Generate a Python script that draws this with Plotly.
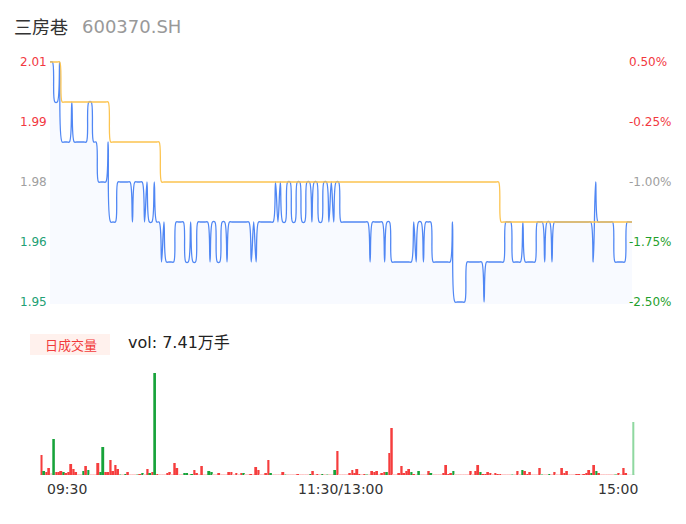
import plotly.graph_objects as go

# ---------------- data ----------------
STOCK_NAME = "三房巷"
STOCK_CODE = "600370.SH"
PREV_CLOSE = 2.00
VOL_TEXT = "vol: 7.41万手"
VOL_TAG = "日成交量"
X_LABELS = ["09:30", "11:30/13:00", "15:00"]

# minute price, written as (price, number of consecutive minutes)
PRICE_RUNS = [
    (2.01, 2), (2.00, 2), (2.01, 1), (1.99, 4), (2.00, 1), (1.99, 6), (2.00, 2),
    (1.99, 2), (1.98, 4), (1.99, 1), (1.97, 3), (1.98, 6), (1.97, 1), (1.98, 4),
    (1.97, 1), (1.98, 1), (1.97, 2), (1.98, 1), (1.97, 2), (1.96, 1), (1.97, 1),
    (1.96, 4), (1.97, 4), (1.96, 2), (1.97, 1), (1.96, 2), (1.97, 5), (1.96, 1),
    (1.97, 2), (1.96, 2), (1.97, 2), (1.96, 1), (1.97, 9), (1.96, 1), (1.97, 1),
    (1.96, 1), (1.97, 7),
    (1.98, 1), (1.97, 1), (1.98, 1), (1.97, 2), (1.98, 2), (1.97, 2), (1.98, 2),
    (1.97, 2), (1.98, 2), (1.97, 1), (1.98, 2), (1.97, 2), (1.98, 2), (1.97, 1),
    (1.98, 1), (1.97, 1), (1.98, 2),
    (1.97, 12), (1.96, 1), (1.97, 5), (1.96, 1), (1.97, 2), (1.96, 9), (1.97, 1),
    (1.96, 1), (1.97, 2), (1.96, 1), (1.97, 3), (1.96, 8), (1.97, 1), (1.95, 5),
    (1.96, 7), (1.95, 1), (1.96, 8), (1.97, 3), (1.96, 4), (1.97, 1), (1.96, 5),
    (1.97, 3), (1.96, 1), (1.97, 2), (1.96, 1), (1.97, 16), (1.96, 1), (1.98, 1),
    (1.97, 7), (1.96, 5), (1.97, 3),
]
AVG_RUNS = [(2.01, 5), (2.00, 20), (1.99, 21), (1.98, 140), (1.97, 55)]

VOLUME = [
    1800, 360, 270, 630, 180, 3240, 270, 270, 360, 270,
    180, 270, 990, 540, 270, 90, 90, 360, 810, 450,
    90, 90, 90, 1080, 270, 2520, 270, 270, 1350, 360,
    900, 540, 90, 90, 90, 270, 90, 90, 90, 90,
    90, 180, 90, 540, 180, 270, 9180, 90, 90, 90,
    90, 180, 270, 90, 1080, 630, 90, 90, 180, 180,
    90, 90, 450, 180, 90, 810, 90, 90, 360, 270,
    90, 90, 180, 90, 90, 90, 270, 270, 90, 180,
    90, 180, 180, 90, 90, 90, 90, 720, 450, 90,
    90, 180, 1350, 180, 90, 90, 90, 90, 270, 90,
    90, 90, 90, 90, 90, 90, 90, 90, 90, 90,
    360, 90, 90, 90, 90, 90, 90, 90, 90, 450,
    2160, 90, 90, 90, 90, 180, 450, 180, 540, 90,
    90, 90, 90, 90, 360, 270, 360, 90, 180, 270,
    270, 1980, 4230, 90, 90, 180, 810, 180, 360, 540,
    270, 90, 90, 360, 90, 90, 90, 360, 180, 90,
    90, 90, 90, 180, 900, 90, 180, 360, 90, 90,
    90, 90, 90, 90, 360, 90, 360, 900, 270, 90,
    90, 270, 180, 90, 180, 90, 90, 90, 90, 90,
    90, 90, 90, 360, 90, 450, 360, 90, 270, 90,
    90, 90, 630, 90, 90, 90, 90, 90, 270, 90,
    90, 630, 180, 360, 90, 90, 90, 90, 90, 90,
    90, 180, 450, 180, 900, 360, 180, 90, 90, 90,
    90, 90, 90, 90, 180, 90, 630, 180, 0, 0,
    4770,
]
# r = up, g = down, lr / lg = faint up / down, per minute
VOL_KIND = (
    "r g r r lr g r r r g "
    "r r r r r lr lr g r g "
    "lr lr lr r g g r r r r "
    "r r lg lr g r lr lr lr lg "
    "r g lr r g r g r lr lr "
    "lr r r lr r r lr lr g g "
    "lr g r r lr r lr lr g g "
    "lr lr r lr lr lr r r lr r "
    "lr r g lr lr r lr r r lr "
    "lr r r g lr lr lr lr r lg "
    "lr lr lr lr r lr lr lr lr g "
    "r lr r lr g lr lg lr lr g "
    "r lr lr lr lr r r r r r "
    "lr r lg lr r r r lr r r "
    "g r r lr lr r r r r r "
    "g r lr g lr lr lr r g lr "
    "lr lr lr r r r r g lr lr "
    "lr lr lr lr r lr r r g r "
    "r r r lr r r r lr lr lr "
    "lr lg lr r lr g r r r lr "
    "lr lr r lg lr lr g lr r lr "
    "lr r r r lr lr lr r r lr "
    "r r r g r g r lr lr lr "
    "lr lr lr lg r lr r r lr lr "
    "lg"
).split()

PRICE_TICKS = [2.01, 1.995, 1.98, 1.965, 1.95]
PRICE_TICK_TEXT = ["2.01", "1.99", "1.98", "1.96", "1.95"]
PCT_TICK_TEXT = ["0.50%", "-0.25%", "-1.00%", "-1.75%", "-2.50%"]


def expand(runs):
    out = []
    for v, n in runs:
        out.extend([v] * n)
    return out


price = expand(PRICE_RUNS)
avg = expand(AVG_RUNS)
minutes = list(range(len(price)))

# ---------------- styling ----------------
W, H = 686, 524
OFF = 8  # page body margin
RED, GREEN, GRAY = "#f2393f", "#1f9f2d", "#a0a0a0"
LEFT_GREEN = "#23a074"
KIND_COLOR = {"r": "#f53d3d", "g": "#17a33a", "lr": "#ffc9c9", "lg": "#8fd8a0"}
FONT = "DejaVu Sans, Noto Sans CJK SC, sans-serif"
CJK = "Noto Sans CJK SC, DejaVu Sans, sans-serif"


def px_x(p):
    return (p - OFF) / W


def px_y(p):
    return 1 - (p - OFF) / H


PAD = 0.0005
y_lo, y_hi = 1.95 - PAD, 2.01 + PAD
pix_per_unit = 240 / 0.06

fig = go.Figure()

fig.add_trace(go.Scatter(
    x=minutes, y=price, mode="lines",
    line=dict(color="#5087f4", width=1.3, shape="spline", smoothing=1.0),
    fill="tozeroy", fillcolor="rgba(90,140,250,0.045)",
    xaxis="x", yaxis="y", hoverinfo="skip", showlegend=False,
))
fig.add_trace(go.Scatter(
    x=minutes, y=avg, mode="lines",
    line=dict(color="#fcc450", width=1.3, shape="spline", smoothing=1.0),
    xaxis="x", yaxis="y", hoverinfo="skip", showlegend=False,
))
fig.add_trace(go.Bar(
    x=list(range(len(VOLUME))), y=VOLUME,
    marker=dict(color=[KIND_COLOR[k] for k in VOL_KIND], line=dict(width=0)),
    xaxis="x2", yaxis="y2", hoverinfo="skip", showlegend=False,
))

top_px = 62 - PAD * pix_per_unit
bot_px = 302 + PAD * pix_per_unit

fig.update_layout(
    width=W, height=H,
    margin=dict(l=0, r=0, t=0, b=0),
    paper_bgcolor="white", plot_bgcolor="rgba(0,0,0,0)",
    bargap=0.2,
    xaxis=dict(domain=[px_x(50), px_x(632)], range=[0, 240], visible=False, fixedrange=True),
    yaxis=dict(domain=[px_y(bot_px), px_y(top_px)], range=[y_lo, y_hi], visible=False,
               fixedrange=True),
    xaxis2=dict(domain=[px_x(40.3), px_x(634.7)], range=[-0.5, 240.5], visible=False,
                anchor="y2", fixedrange=True),
    yaxis2=dict(domain=[px_y(475), px_y(373)], range=[0, max(VOLUME)], visible=False,
                anchor="x2", fixedrange=True),
    showlegend=False,
)

ann = []
# title
ann.append(dict(x=px_x(12), y=px_y(26), xref="paper", yref="paper", xanchor="left",
                yanchor="middle", text=STOCK_NAME, showarrow=False,
                font=dict(family=CJK, size=18, color="#333333")))
ann.append(dict(x=px_x(80), y=px_y(26), xref="paper", yref="paper", xanchor="left",
                yanchor="middle", text=STOCK_CODE, showarrow=False,
                font=dict(family=FONT, size=18, color="#999999")))

# price / percentage tick labels
for v, t, pt in zip(PRICE_TICKS, PRICE_TICK_TEXT, PCT_TICK_TEXT):
    pct = (v / PREV_CLOSE - 1) * 100
    if pct > -0.9:
        lc, rc = RED, RED
    elif pct < -1.1:
        lc, rc = LEFT_GREEN, GREEN
    else:
        lc, rc = GRAY, GRAY
    ann.append(dict(x=px_x(49), y=v, xref="paper", yref="y", xanchor="right",
                    yanchor="middle", text=t, showarrow=False,
                    font=dict(family=FONT, size=12, color=lc)))
    ann.append(dict(x=px_x(627), y=v, xref="paper", yref="y", xanchor="left",
                    yanchor="middle", text=pt, showarrow=False,
                    font=dict(family=FONT, size=12, color=rc)))

# volume header
ann.append(dict(x=px_x(71), y=px_y(344), xref="paper", yref="paper", xanchor="center",
                yanchor="middle", text=VOL_TAG, showarrow=False,
                font=dict(family=CJK, size=13, color="#f23b3b")))
ann.append(dict(x=px_x(126), y=px_y(342), xref="paper", yref="paper", xanchor="left",
                yanchor="middle", text=VOL_TEXT, showarrow=False,
                font=dict(family=FONT, size=16, color="#222222")))

# time labels
for xpix, t in zip([67, 340, 617.5], X_LABELS):
    ann.append(dict(x=px_x(xpix), y=px_y(489), xref="paper", yref="paper",
                    xanchor="center", yanchor="middle", text=t, showarrow=False,
                    font=dict(family=FONT, size=14, color="#333333")))

fig.update_layout(annotations=ann)

fig.update_layout(shapes=[
    dict(type="rect", xref="paper", yref="paper", x0=px_x(30), x1=px_x(110),
         y0=px_y(355), y1=px_y(334), fillcolor="#fff1ed", line=dict(width=0), layer="below"),
    dict(type="line", xref="paper", yref="y2", x0=px_x(40), x1=px_x(635), y0=0, y1=0,
         line=dict(color="#dddddd", width=1), layer="below"),
])

fig.write_html("out.html")
